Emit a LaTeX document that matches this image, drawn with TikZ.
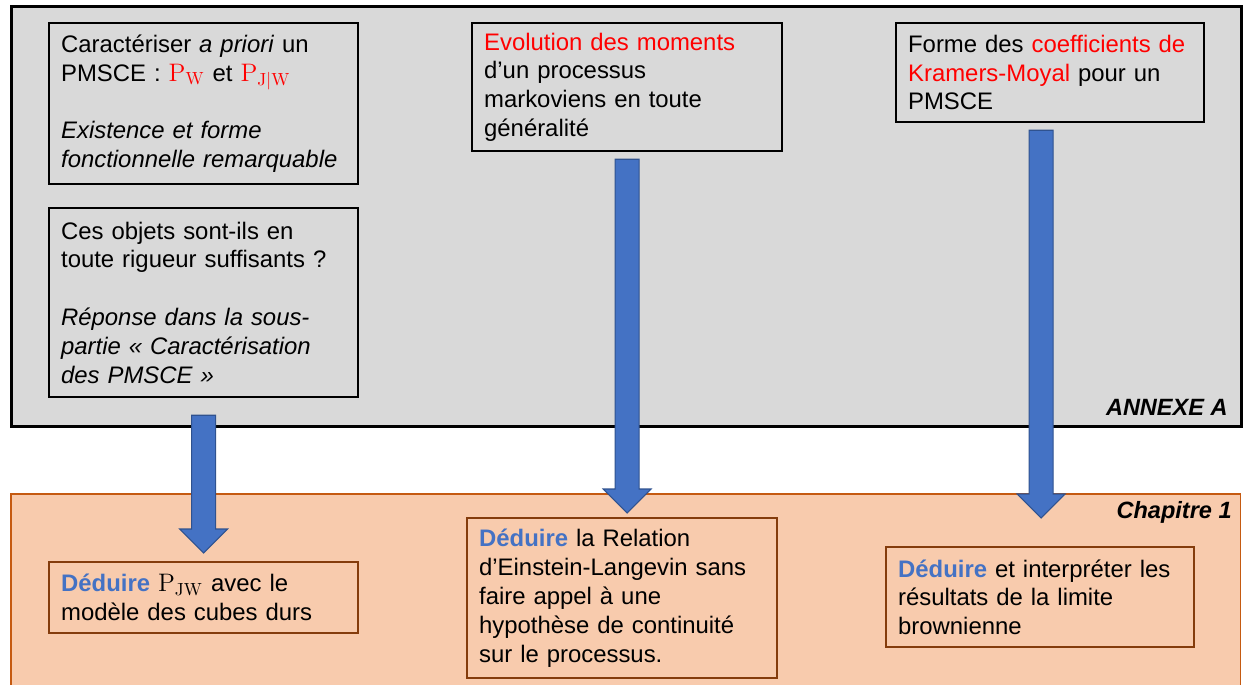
\documentclass[tikz,border=0pt]{standalone}
\usepackage[no-math]{fontspec}
\setmainfont{Liberation Sans}
\usetikzlibrary{calc}

\definecolor{panelgray}{HTML}{D9D9D9}
\definecolor{panelorange}{HTML}{F8CBAD}
\definecolor{orangeedge}{HTML}{C55A11}
\definecolor{brownedge}{HTML}{843C0C}
\definecolor{arrowblue}{HTML}{4472C4}
\definecolor{arrowedge}{HTML}{2F528F}
\definecolor{textred}{HTML}{FF0000}

\newcommand{\deduire}{\textbf{\color{arrowblue}Déduire}}
\newcommand{\rouge}[1]{{\color{textred}#1}}
% block arrow: #1 top of the shaft, #2 tip
\newcommand{\bigdown}[2]{%
  \path (#1) coordinate (top) (#2) coordinate (tip);
  \draw[bigarrow] ($(top)+(-12,0)$) -- ($(top)+(12,0)$) -- ($(tip)+(12,-24)$)
    -- ($(tip)+(24,-24)$) -- (tip) -- ($(tip)+(-24,-24)$)
    -- ($(tip)+(-12,-24)$) -- cycle;}

\tikzset{
  every node/.style={font=\fontsize{13.6}{16.4}\selectfont},
  annexebox/.style={draw, line width=1.3pt, anchor=north west, align=left,
    inner xsep=0.24cm, inner ysep=0pt},
  chapbox/.style={annexebox, draw=brownedge},
  partlabel/.style={anchor=east, inner sep=0pt, font=\fontsize{13.4}{16.4}\selectfont\bfseries\itshape},
  bigarrow/.style={fill=arrowblue, draw=arrowedge, line width=0.6pt, line join=miter}
}

\begin{document}
\begin{tikzpicture}[x=0.02cm, y=-0.02cm]
  \useasboundingbox (0,0) rectangle (1248,684);

  % the two panels
  \node[draw, line width=1.7pt, fill=panelgray, anchor=north west,
    minimum width=24.6cm, minimum height=8.4cm, inner sep=0pt] (annexe) at (10,5) {};
  \node[draw=orangeedge, line width=0.9pt, fill=panelorange, anchor=north west,
    minimum width=24.6cm, minimum height=4.4cm, inner sep=0pt] (chapitre) at (10,493) {};
  \node[partlabel] (annexelabel) at (1228,407) {ANNEXE A};
  \node[partlabel] (chaplabel) at (1232,512) {Chapitre 1};

  % annexe A
  \node[annexebox, minimum width=6.18cm, minimum height=3.22cm, text width=5.70cm] (b1) at (48,22)
    {Caractériser \textit{a priori} un\\
     PMSCE : \rouge{$\mathrm{P_{W}}$} et \rouge{$\mathrm{P_{J|W}}$}\\[16.4pt]
     \textit{Existence et forme}\\
     \textit{fonctionnelle remarquable}};
  \node[annexebox, minimum width=6.18cm, minimum height=3.78cm, text width=5.70cm] (b2) at (48,207)
    {Ces objets sont-ils en\\
     toute rigueur suffisants ?\\[16.4pt]
     \textit{Réponse dans la sous-}\\
     \textit{partie « Caractérisation}\\
     \textit{des PMSCE »}};
  \node[annexebox, minimum width=6.20cm, minimum height=2.56cm, text width=5.72cm] (b3) at (471,22)
    {\rouge{Evolution des moments}\\
     d’un processus\\
     markoviens en toute\\
     généralité};
  \node[annexebox, minimum width=6.16cm, minimum height=1.98cm, text width=5.68cm] (b4) at (895,22)
    {Forme des \rouge{coefficients de}\\
     \rouge{Kramers-Moyal} pour un\\
     PMSCE};

  % chapitre 1
  \node[chapbox, minimum width=6.18cm, minimum height=1.42cm, text width=5.70cm] (b5) at (48,561)
    {\deduire{} $\mathrm{P_{JW}}$ avec le\\
     modèle des cubes durs};
  \node[chapbox, minimum width=6.20cm, minimum height=3.20cm, text width=5.72cm] (b6) at (466,517)
    {\deduire{} la Relation\\
     d’Einstein-Langevin sans\\
     faire appel à une\\
     hypothèse de continuité\\
     sur le processus.};
  \node[chapbox, minimum width=6.16cm, minimum height=2.00cm, text width=5.68cm] (b7) at (885,546)
    {\deduire{} et interpréter les\\
     résultats de la limite\\
     brownienne};

  % arrows
  \bigdown{$(b2.south)+(0,17)$}{$(b5.north)+(0,-8)$}
  \bigdown{$(b3.south)+(0,7)$}{$(b3.south |- b6.north)+(0,-4)$}
  \bigdown{$(b4.south)+(-9,7)$}{$(b4.south |- b7.north)+(-9,-28)$}
\end{tikzpicture}
\end{document}
